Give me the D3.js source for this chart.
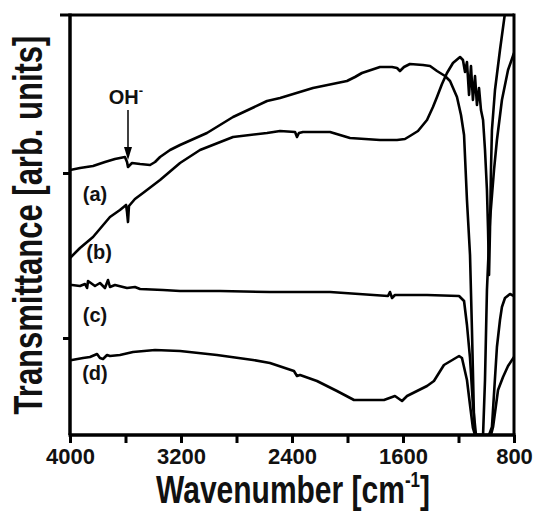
<!DOCTYPE html>
<html>
<head>
<meta charset="utf-8">
<script src="https://cdn.jsdelivr.net/npm/d3@7"></script>
<style>
    body { margin: 0; background: #fff; }
    text { font-family: Arial, "Liberation Sans", sans-serif; font-weight: bold; fill: #111; }
</style>
</head>
<body>
<script>
// spectra: [wavenumber cm-1, transmittance (arb. units)]
const spectrumA = [
    [4000, 265], [3928, 267], [3834, 269], [3748, 273], [3676, 276], [3604, 278], [3589, 273],
    [3582, 268], [3568, 270], [3553, 272], [3495, 271], [3423, 270], [3387, 273], [3351, 278],
    [3279, 285], [3207, 290], [3013, 302], [2825, 318], [2580, 334], [2486, 337], [2249, 347],
    [2004, 354], [1946, 358], [1896, 362], [1766, 368], [1679, 368], [1643, 367], [1622, 364],
    [1593, 368], [1550, 371], [1456, 370], [1405, 369], [1355, 364], [1297, 359], [1261, 354],
    [1211, 338], [1182, 320], [1160, 300], [1139, 235], [1117, 180], [1103, 105], [1088, 15],
    [1081, 0], [1023, 0], [1009, 55], [995, 145], [973, 215], [944, 265], [923, 295],
    [887, 335], [843, 365], [800, 382]
];
const spectrumB = [
    [4000, 177], [3928, 187], [3834, 198], [3712, 218], [3640, 225], [3596, 230], [3589, 223],
    [3582, 213], [3575, 229], [3532, 236], [3474, 242], [3351, 255], [3207, 272], [3063, 285],
    [2825, 298], [2580, 302], [2486, 304], [2378, 303], [2364, 298], [2350, 302], [2321, 303],
    [2126, 303], [1982, 297], [1766, 295], [1643, 295], [1586, 296], [1550, 299], [1492, 304],
    [1427, 315], [1384, 328], [1355, 338], [1319, 351], [1283, 362], [1240, 372], [1189, 378],
    [1168, 375], [1153, 363], [1139, 373], [1124, 340], [1110, 369], [1096, 335], [1081, 359],
    [1067, 330], [1052, 347], [1038, 325], [1023, 315], [1009, 285], [995, 245], [987, 205],
    [980, 160], [973, 205], [966, 265], [959, 305], [937, 345], [901, 385], [862, 425]
];
const spectrumC = [
    [4000, 150], [3986, 150], [3928, 149], [3892, 151], [3877, 147], [3870, 154], [3820, 149],
    [3784, 152], [3748, 147], [3726, 155], [3712, 148], [3676, 150], [3589, 147], [3532, 148],
    [3495, 146], [3330, 145], [3207, 144], [2919, 144], [2559, 143], [2126, 143], [1708, 139],
    [1694, 143], [1679, 137], [1658, 140], [1427, 140], [1196, 139], [1160, 134], [1139, 110],
    [1117, 77], [1096, 30], [1074, 0], [980, 0], [959, 8], [923, 88], [901, 115], [887, 128],
    [865, 137], [829, 141], [800, 139]
];
const spectrumD = [
    [4000, 75], [3986, 75], [3906, 77], [3856, 78], [3805, 81], [3784, 77], [3762, 76],
    [3733, 80], [3712, 79], [3640, 80], [3546, 83], [3387, 85], [3207, 84], [2941, 80],
    [2681, 75], [2559, 72], [2386, 64], [2364, 59], [2342, 60], [2220, 54], [2076, 44],
    [1953, 35], [1737, 35], [1658, 39], [1607, 34], [1571, 39], [1427, 49], [1377, 54],
    [1305, 70], [1196, 79], [1175, 77], [1139, 55], [1117, 30], [1096, 7], [1081, 0],
    [966, 0], [951, 8], [915, 45], [879, 58], [843, 69], [800, 78]
];

const spectra = [spectrumA, spectrumB, spectrumC, spectrumD];
const curveLabels = ['(a)', '(b)', '(c)', '(d)'];
const labelPositions = [[3820, 234], [3790, 176], [3820, 113], [3820, 55]];
const xTicks = [4000, 3600, 3200, 2800, 2400, 2000, 1600, 1200, 800];
const xTickLabels = [4000, 3200, 2400, 1600, 800];
const yTicks = [97, 262];
const ohPeak = 3582;

const width = 537, height = 518;
const margin = { top: 15, right: 23, bottom: 83, left: 70 };

const svg = d3.select('body').append('svg')
    .attr('width', width)
    .attr('height', height);

const x = d3.scaleLinear().domain([4000, 800]).range([margin.left, width - margin.right]);
const y = d3.scaleLinear().domain([0, 420]).range([height - margin.bottom, margin.top]);

svg.append('clipPath').attr('id', 'plot')
    .append('rect')
    .attr('x', margin.left).attr('y', margin.top)
    .attr('width', x(800) - x(4000)).attr('height', y(0) - y(420));

const line = d3.line()
    .x(d => x(d[0]))
    .y(d => y(d[1]));

svg.append('g')
    .attr('clip-path', 'url(#plot)')
    .selectAll('path')
    .data(spectra)
    .enter()
    .append('path')
    .attr('d', line)
    .attr('fill', 'none')
    .attr('stroke', '#000')
    .attr('stroke-width', 2.6)
    .attr('stroke-linejoin', 'round');

// frame
svg.append('line')
    .attr('x1', margin.left - 10).attr('x2', x(800))
    .attr('y1', y(420)).attr('y2', y(420))
    .attr('stroke', '#000').attr('stroke-width', 3);
svg.append('line')
    .attr('x1', x(800)).attr('x2', x(800))
    .attr('y1', y(420) - 1.5).attr('y2', y(0))
    .attr('stroke', '#000').attr('stroke-width', 3);

const xAxis = svg.append('g')
    .attr('transform', `translate(0,${y(0)})`)
    .call(d3.axisBottom(x).tickValues(xTicks).tickSize(8).tickSizeOuter(0)
        .tickFormat(d => xTickLabels.includes(d) ? d : ''));
xAxis.select('.domain').attr('stroke-width', 3.5).attr('d', `M${margin.left - 1.5},0H${x(800) + 1.5}`);
xAxis.selectAll('.tick line').attr('stroke-width', 3);
xAxis.selectAll('.tick text')
    .attr('y', 13)
    .attr('font-size', 22)
    .attr('font-family', 'Arial, "Liberation Sans", sans-serif')
    .attr('font-weight', 'bold')
    .attr('fill', '#111');

const yAxis = svg.append('g')
    .attr('transform', `translate(${margin.left},0)`)
    .call(d3.axisLeft(y).tickValues(yTicks).tickSize(7).tickSizeOuter(0).tickFormat(''));
yAxis.select('.domain').attr('stroke-width', 3.5).attr('d', `M0,${y(420) - 1.5}V${y(0)}`);
yAxis.selectAll('.tick line').attr('stroke-width', 3);

// curve labels
svg.selectAll('text.curve-label')
    .data(curveLabels)
    .enter()
    .append('text')
    .attr('class', 'curve-label')
    .attr('x', (_, i) => x(labelPositions[i][0]))
    .attr('y', (_, i) => y(labelPositions[i][1]))
    .attr('text-anchor', 'middle')
    .attr('font-size', 20)
    .text(d => d);

// OH- annotation
const oh = svg.append('text')
    .attr('x', x(ohPeak) - 2)
    .attr('y', 104)
    .attr('text-anchor', 'middle')
    .attr('font-size', 20);
oh.append('tspan').text('OH');
oh.append('tspan').attr('dy', -9).attr('font-size', 13).text('-');

svg.append('line')
    .attr('x1', x(ohPeak)).attr('x2', x(ohPeak))
    .attr('y1', 110).attr('y2', 150)
    .attr('stroke', '#000').attr('stroke-width', 1.5);
svg.append('path')
    .attr('d', `M${x(ohPeak) - 4},147L${x(ohPeak) + 4},147L${x(ohPeak)},160Z`)
    .attr('fill', '#000');

// axis titles
const xTitle = svg.append('text')
    .attr('transform', `translate(${(x(4000) + x(800)) / 2 + 1},503) scale(1,1.3)`)
    .attr('text-anchor', 'middle')
    .attr('font-size', 30);
xTitle.append('tspan').text('Wavenumber [cm');
xTitle.append('tspan').attr('dy', -12).attr('font-size', 17).text('-1');
xTitle.append('tspan').attr('dy', 12).text(']');

svg.append('text')
    .attr('transform', `translate(42,${(y(0) + y(420)) / 2}) rotate(-90) scale(1,1.3)`)
    .attr('text-anchor', 'middle')
    .attr('font-size', 31)
    .text('Transmittance [arb. units]');
</script>
</body>
</html>
